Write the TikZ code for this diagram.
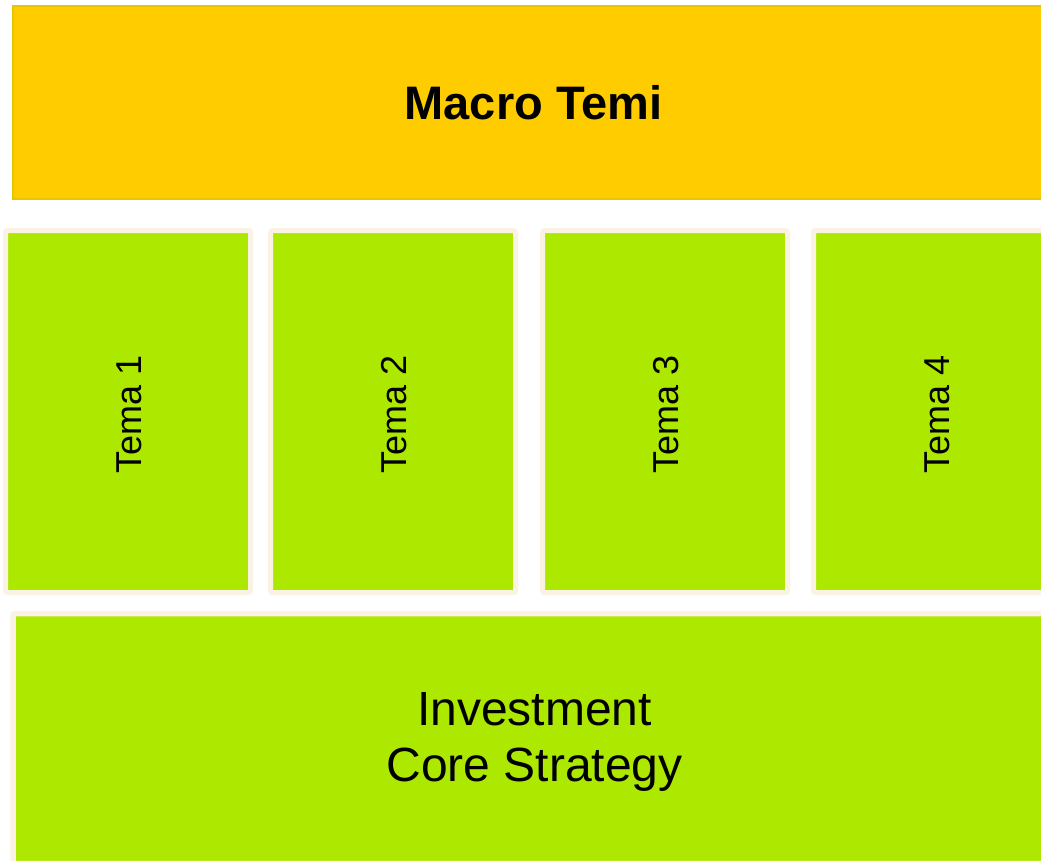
\documentclass[tikz,border=0pt]{standalone}
\usepackage{fontspec}
\setmainfont{Liberation Sans}
\definecolor{macroyellow}{RGB}{255,204,0}
\definecolor{macroborder}{RGB}{230,198,0}
\definecolor{temagreen}{RGB}{173,232,0}
\definecolor{temaframe}{RGB}{250,243,227}
\begin{document}
\begin{tikzpicture}[x=1pt,y=-1pt,
  macrobox/.style={draw=macroborder,fill=macroyellow,line width=2pt,inner sep=0pt,
    font=\fontsize{47}{52}\selectfont\bfseries},
  temabox/.style={draw=temaframe,fill=temagreen,line width=5pt,rounded corners=2pt,inner sep=0pt,
    minimum width=245pt,minimum height=362pt},
  tematext/.style={rotate=90,font=\fontsize{36}{42}\selectfont},
  corebox/.style={draw=temaframe,fill=temagreen,line width=5.5pt,rounded corners=2pt,inner sep=0pt},
  coretextstyle/.style={align=center,font=\fontsize{48}{56}\selectfont}]
\useasboundingbox (0,0) rectangle (1041,860);
\clip (0,0) rectangle (1041,860);
% Macro Temi
\node[macrobox,minimum width=1041pt,minimum height=193pt] (macro) at (533.5,102.5) {Macro Temi};
% Tema boxes
\node[temabox] (t1) at (128,411.5) {};
\node[temabox] (t2) at (393,411.5) {};
\node[temabox] (t3) at (665,411.5) {};
\node[temabox] (t4) at (936,411.5) {};
\node[tematext] (l1) at ([xshift=1pt,yshift=-3pt]t1.center) {Tema 1};
\node[tematext] (l2) at ([xshift=1pt,yshift=-3pt]t2.center) {Tema 2};
\node[tematext] (l3) at ([xshift=1pt,yshift=-3pt]t3.center) {Tema 3};
\node[tematext] (l4) at ([xshift=1pt,yshift=-3pt]t4.center) {Tema 4};
% Core strategy
\node[corebox,minimum width=1043pt,minimum height=250pt] (core) at (534.5,738.5) {};
\node[coretextstyle] (coretext) at (534.5,742) {Investment\\Core Strategy};
\end{tikzpicture}
\end{document}
